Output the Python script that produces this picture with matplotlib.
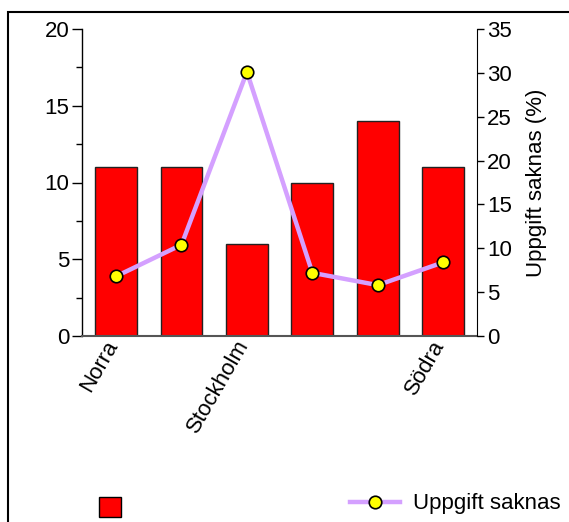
import numpy as np
import matplotlib
matplotlib.use('Agg')
import matplotlib.pyplot as plt
import matplotlib.transforms as mtransforms
from matplotlib.patches import Rectangle, Patch
from matplotlib.lines import Line2D

plt.rcParams['font.family'] = ['Liberation Sans', 'DejaVu Sans']

# data
regions = ['Norra', '', 'Stockholm', '', '', 'Södra']
counts = [11, 11, 6, 10, 14, 11]
missing_pct = [6.8, 10.4, 30.1, 7.2, 5.8, 8.4]
line_label = 'Uppgift saknas'
right_label = 'Uppgift saknas (%)'

FS = 16
W, H = 569, 522
fig = plt.figure(figsize=(W / 100, H / 100), dpi=100)

# outer frame (only top and left edge fall inside the picture)
fig.patches.append(Rectangle((8 / W, -0.1), 1.2, 1 - 12 / H + 0.1,
                             transform=fig.transFigure, fill=False,
                             edgecolor='black', linewidth=1.5))

ax = fig.add_axes([82 / W, 1 - 336 / H, (476 - 82) / W, (336 - 29) / H])
x = np.arange(len(regions))
ax.bar(x, counts, width=0.64, color='#ff0000', edgecolor='#222222',
       linewidth=1, zorder=2)
ax.set_xlim(-0.52, 5.5)
ax.set_ylim(0, 20)
ax.set_yticks([0, 5, 10, 15, 20])
ax.set_yticks([2.5, 7.5, 12.5, 17.5], minor=True)
ax.set_xticks(x)
ax.set_xticklabels(regions, rotation=60, ha='right', rotation_mode='anchor',
                   fontsize=FS)
ax.tick_params(axis='x', length=0, pad=6)
# nudge the rotated labels a bit left/up
shift = mtransforms.ScaledTranslation(-12 / 100, 8 / 100, fig.dpi_scale_trans)
for lbl in ax.get_xticklabels():
    lbl.set_transform(lbl.get_transform() + shift)
ax.tick_params(axis='y', which='major', length=7, width=1, labelsize=FS,
               direction='out', pad=2)
ax.tick_params(axis='y', which='minor', length=4, width=1, direction='out')
for s in ['top', 'right']:
    ax.spines[s].set_visible(False)
ax.spines['bottom'].set_color('#555555')
ax.spines['bottom'].set_linewidth(1.5)
ax.spines['left'].set_linewidth(1)

ax2 = ax.twinx()
ax2.plot(x, missing_pct, color='#d4a0ff', linewidth=3.2, marker='o',
         markersize=9, markerfacecolor='#ffff00', markeredgecolor='black',
         markeredgewidth=1.2, zorder=3)
ax2.set_ylim(0, 35)
ax2.set_yticks(np.arange(0, 36, 5))
ax2.tick_params(axis='y', length=5, width=1, labelsize=FS, pad=2)
for s in ['top', 'left', 'bottom']:
    ax2.spines[s].set_visible(False)
ax2.spines['right'].set_position(('outward', 1))
ax2.set_ylabel(right_label, fontsize=FS, labelpad=10)

# legend entries at the bottom
bar_handle = Patch(facecolor='#ff0000', edgecolor='black', linewidth=1)
fig.legend([bar_handle], [''], loc='center', bbox_to_anchor=(110 / W, 1 - 508 / H),
           frameon=False, handlelength=1.0, handleheight=1.0,
           fontsize=FS, borderpad=0, handletextpad=0)
line_handle = Line2D([], [], color='#d4a0ff', linewidth=3.2, marker='o',
                     markersize=9, markerfacecolor='#ffff00',
                     markeredgecolor='black', markeredgewidth=1.2)
fig.legend([line_handle], [line_label], loc='center left',
           bbox_to_anchor=(339 / W, 1 - 504 / H), frameon=False,
           handlelength=2.25, fontsize=FS, borderpad=0, handletextpad=0.6)

fig.savefig('out.png', dpi=100)
